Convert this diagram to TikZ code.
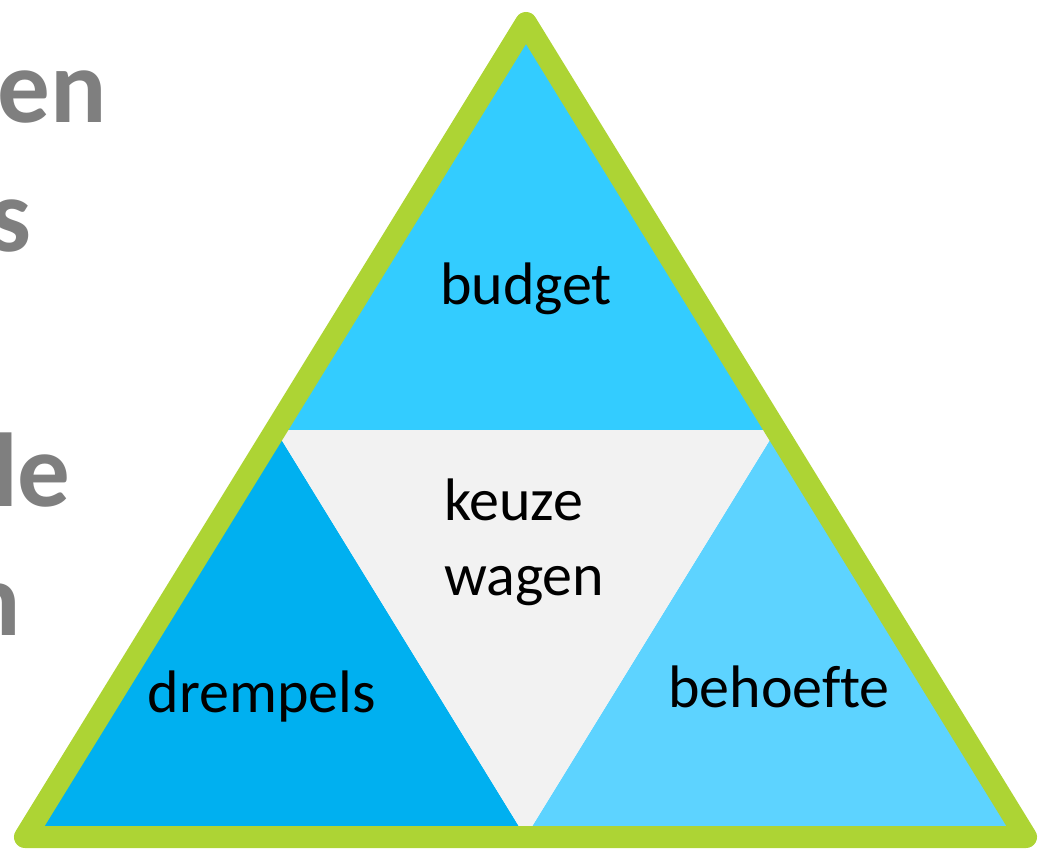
\documentclass[tikz,border=0pt]{standalone}
\usepackage{fontspec}
\usetikzlibrary{calc}
\setmainfont{Carlito}[Ligatures=NoCommon]
\definecolor{limegreen}{RGB}{173,212,52}
\definecolor{topblue}{RGB}{51,204,255}
\definecolor{leftblue}{RGB}{0,176,240}
\definecolor{rightblue}{RGB}{93,211,255}
\definecolor{centergray}{RGB}{242,242,242}
\definecolor{titlegray}{RGB}{127,127,127}
\tikzset{
  bgtext/.style={anchor=base east, inner sep=0pt, text=titlegray, font=\fontsize{105}{128}\selectfont\bfseries},
  lbl/.style={inner sep=0pt, text=black, font=\fontsize{60}{75}\selectfont},
  outline/.style={draw=limegreen, line width=22pt, line join=round},
}
\begin{document}
\begin{tikzpicture}[x=1pt,y=-1pt]
\useasboundingbox (0,0) rectangle (1039,850);
\clip (0,0) rectangle (1039,850);
% background text (partly cut off at the left edge, as in the reference)
\node[bgtext] (t1) at (107,123) {en};
\node[bgtext] (t2) at (32,252) {s};
\node[bgtext] (t3) at (71,506) {le};
\node[bgtext] (t4) at (21,635) {n};
% triangle geometry
\coordinate (A) at (526,23);
\coordinate (B) at (25,837);
\coordinate (C) at (1026,837);
\coordinate (AB) at ($(A)!0.5!(B)$);
\coordinate (AC) at ($(A)!0.5!(C)$);
\coordinate (BC) at ($(B)!0.5!(C)$);
\fill[topblue] (A) -- (AB) -- (AC) -- cycle;
\fill[leftblue] (AB) -- (B) -- (BC) -- cycle;
\fill[rightblue] (AC) -- (BC) -- (C) -- cycle;
\fill[centergray] (AB) -- (AC) -- (BC) -- cycle;
\draw[outline] (A) -- (B) -- (C) -- cycle;
% labels
\node[lbl, anchor=base] (budget) at (526,305) {budget};
\node[lbl, anchor=base west] (keuze) at (444,520) {keuze};
\node[lbl, anchor=base west] (wagen) at (444,595) {wagen};
\node[lbl, anchor=base] (drempels) at (262,712) {drempels};
\node[lbl, anchor=base] (behoefte) at (779,707) {behoefte};
\end{tikzpicture}
\end{document}
